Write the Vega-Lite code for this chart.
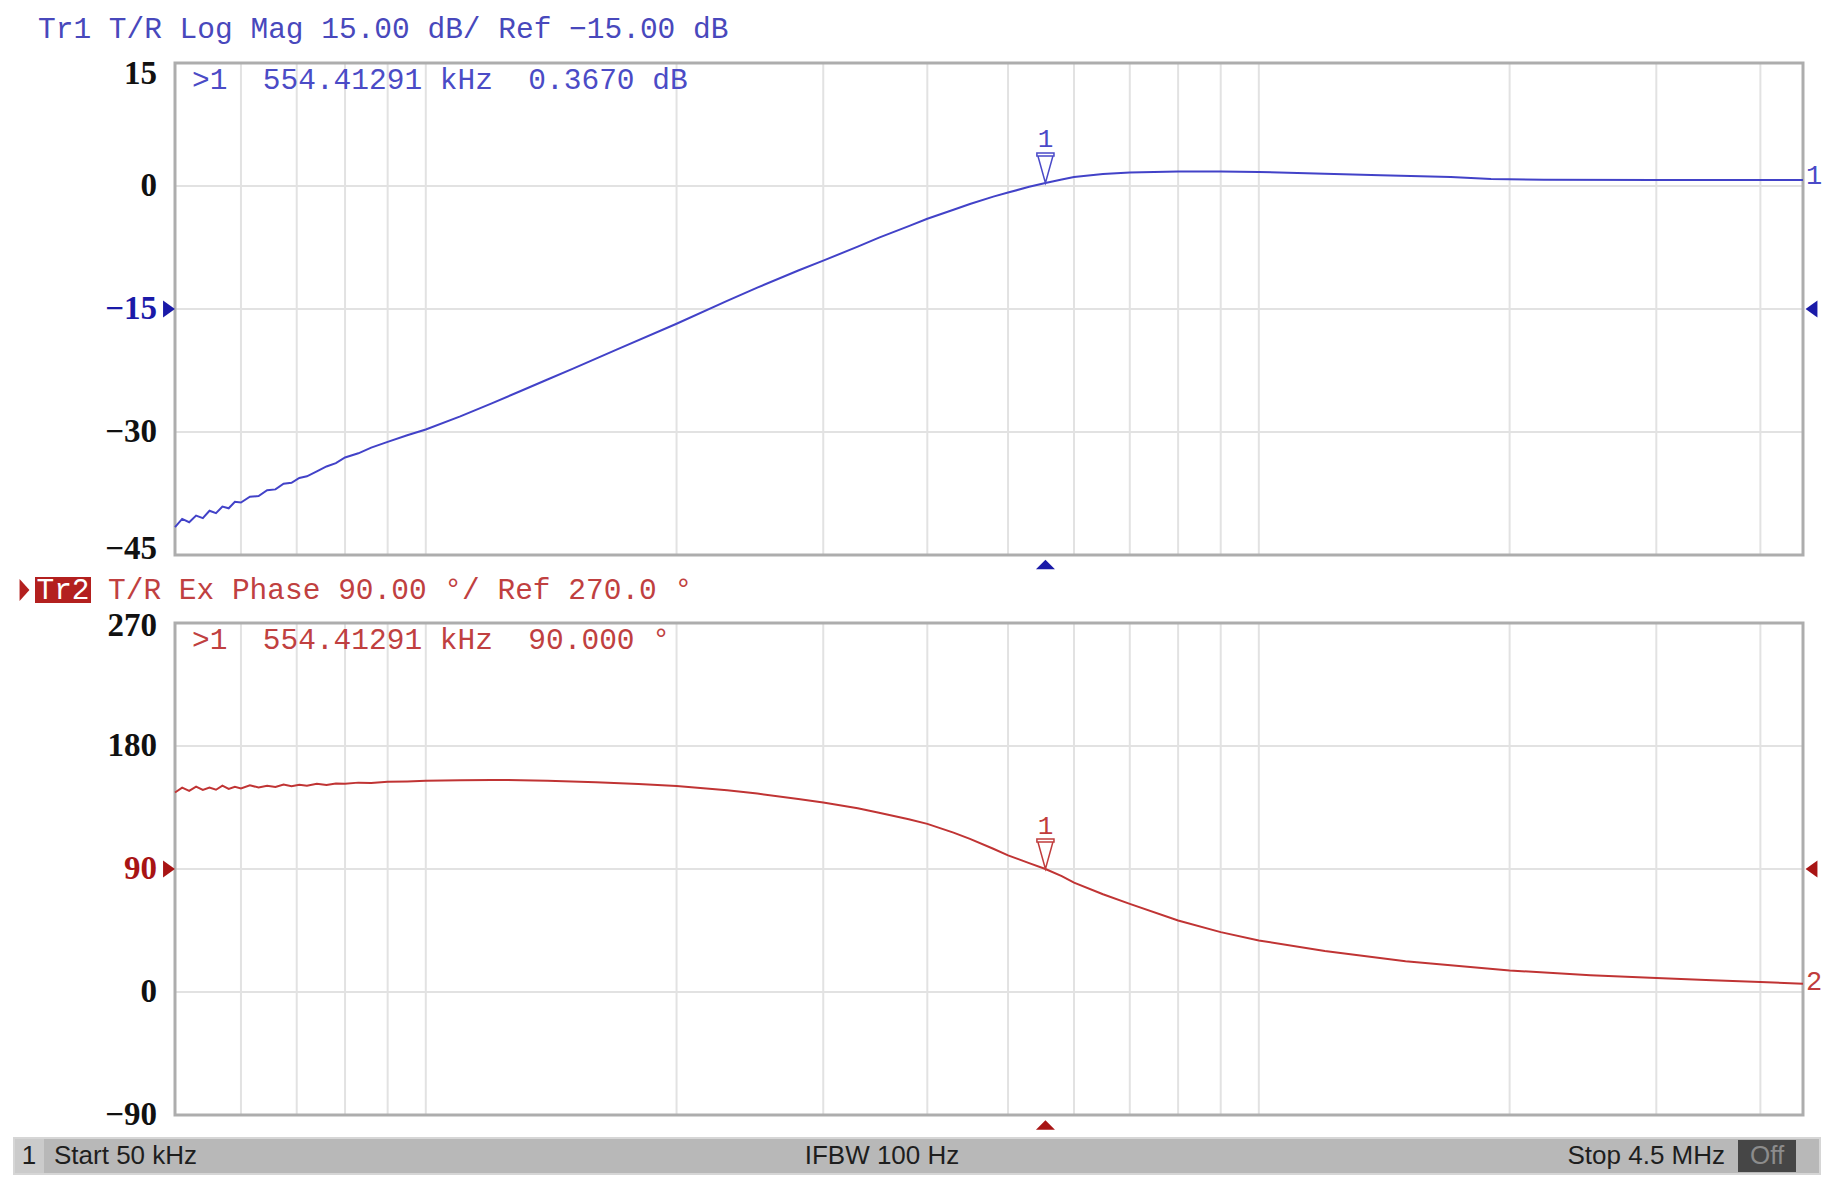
{
  "$schema": "https://vega.github.io/schema/vega-lite/v6.json",
  "width": 1628,
  "height": 1052,
  "autosize": {"type": "none"},
  "padding": {"left": 175, "top": 63, "right": 41, "bottom": 75},
  "background": "white",
  "config": {"view": {"stroke": null}},
  "datasets": {
    "grid": [{"f": 60000}, {"f": 70000}, {"f": 80000}, {"f": 90000}, {"f": 100000}, {"f": 200000}, {"f": 300000}, {"f": 400000}, {"f": 500000}, {"f": 600000}, {"f": 700000}, {"f": 800000}, {"f": 900000}, {"f": 1000000}, {"f": 2000000}, {"f": 3000000}, {"f": 4000000}],
    "magTicks": [{"v": -45}, {"v": -30}, {"v": -15}, {"v": 0}, {"v": 15}],
    "phaseTicks": [{"v": -90}, {"v": 0}, {"v": 90}, {"v": 180}, {"v": 270}],
    "mag": [
      {"f": 50000, "v": -41.6}, {"f": 51000, "v": -40.6}, {"f": 52000, "v": -41.0}, {"f": 53000, "v": -40.2}, {"f": 54000, "v": -40.5},
      {"f": 55000, "v": -39.6}, {"f": 56000, "v": -39.9}, {"f": 57000, "v": -39.1}, {"f": 58000, "v": -39.3}, {"f": 59000, "v": -38.5},
      {"f": 60000, "v": -38.6}, {"f": 61500, "v": -37.9}, {"f": 63000, "v": -37.8}, {"f": 64500, "v": -37.1}, {"f": 66000, "v": -37.0},
      {"f": 67500, "v": -36.3}, {"f": 69000, "v": -36.2}, {"f": 70500, "v": -35.6}, {"f": 72000, "v": -35.4}, {"f": 74000, "v": -34.8},
      {"f": 76000, "v": -34.2}, {"f": 78000, "v": -33.8}, {"f": 80000, "v": -33.1}, {"f": 83000, "v": -32.6}, {"f": 86000, "v": -31.9},
      {"f": 90000, "v": -31.2}, {"f": 95000, "v": -30.4}, {"f": 100000, "v": -29.7}, {"f": 110000, "v": -28.1}, {"f": 120000, "v": -26.5},
      {"f": 130000, "v": -25.0}, {"f": 140000, "v": -23.6}, {"f": 150000, "v": -22.3}, {"f": 170000, "v": -19.9}, {"f": 200000, "v": -16.8},
      {"f": 230000, "v": -14.0}, {"f": 250000, "v": -12.4}, {"f": 280000, "v": -10.3}, {"f": 300000, "v": -9.1}, {"f": 330000, "v": -7.4},
      {"f": 350000, "v": -6.3}, {"f": 380000, "v": -4.9}, {"f": 400000, "v": -4.0}, {"f": 430000, "v": -2.9}, {"f": 450000, "v": -2.2},
      {"f": 480000, "v": -1.3}, {"f": 500000, "v": -0.8}, {"f": 530000, "v": -0.1}, {"f": 554413, "v": 0.37}, {"f": 580000, "v": 0.8},
      {"f": 600000, "v": 1.1}, {"f": 650000, "v": 1.45}, {"f": 700000, "v": 1.65}, {"f": 800000, "v": 1.78}, {"f": 900000, "v": 1.78},
      {"f": 1000000, "v": 1.72}, {"f": 1200000, "v": 1.5}, {"f": 1400000, "v": 1.3}, {"f": 1700000, "v": 1.1}, {"f": 1900000, "v": 0.85},
      {"f": 2200000, "v": 0.77}, {"f": 3000000, "v": 0.74}, {"f": 4000000, "v": 0.73}, {"f": 4500000, "v": 0.73}
    ],
    "phase": [
      {"f": 50000, "v": 146.0}, {"f": 51000, "v": 149.5}, {"f": 52000, "v": 147.2}, {"f": 53000, "v": 150.3}, {"f": 54000, "v": 147.8},
      {"f": 55000, "v": 149.6}, {"f": 56000, "v": 148.0}, {"f": 57000, "v": 151.0}, {"f": 58000, "v": 148.6}, {"f": 59000, "v": 150.2},
      {"f": 60000, "v": 149.0}, {"f": 61500, "v": 151.3}, {"f": 63000, "v": 149.6}, {"f": 64500, "v": 150.9}, {"f": 66000, "v": 150.0},
      {"f": 67500, "v": 151.8}, {"f": 69000, "v": 150.6}, {"f": 70500, "v": 151.6}, {"f": 72000, "v": 151.0}, {"f": 74000, "v": 152.3},
      {"f": 76000, "v": 151.5}, {"f": 78000, "v": 152.6}, {"f": 80000, "v": 152.4}, {"f": 83000, "v": 153.2}, {"f": 86000, "v": 153.0},
      {"f": 90000, "v": 153.8}, {"f": 95000, "v": 154.1}, {"f": 100000, "v": 154.5}, {"f": 110000, "v": 155.0}, {"f": 120000, "v": 155.2},
      {"f": 130000, "v": 155.0}, {"f": 140000, "v": 154.6}, {"f": 160000, "v": 153.5}, {"f": 180000, "v": 152.2}, {"f": 200000, "v": 150.8},
      {"f": 230000, "v": 147.6}, {"f": 250000, "v": 145.2}, {"f": 280000, "v": 141.2}, {"f": 300000, "v": 138.6}, {"f": 330000, "v": 134.4},
      {"f": 350000, "v": 131.2}, {"f": 380000, "v": 126.4}, {"f": 400000, "v": 123.0}, {"f": 430000, "v": 116.6}, {"f": 450000, "v": 112.0},
      {"f": 480000, "v": 104.8}, {"f": 500000, "v": 100.0}, {"f": 530000, "v": 94.3}, {"f": 554413, "v": 90.0}, {"f": 580000, "v": 84.8},
      {"f": 600000, "v": 80.0}, {"f": 650000, "v": 71.5}, {"f": 700000, "v": 64.5}, {"f": 800000, "v": 52.3}, {"f": 900000, "v": 43.8},
      {"f": 1000000, "v": 37.7}, {"f": 1200000, "v": 30.0}, {"f": 1500000, "v": 22.5}, {"f": 2000000, "v": 15.8}, {"f": 2500000, "v": 12.3},
      {"f": 3000000, "v": 10.2}, {"f": 3500000, "v": 8.6}, {"f": 4000000, "v": 7.3}, {"f": 4500000, "v": 6.1}
    ]
  },
  "resolve": {"scale": {"y": "independent"}, "axis": {"y": "independent"}},
  "layer": [
    {
      "layer": [
        {
          "data": {"name": "grid"},
          "mark": {"type": "rule", "color": "#e2e2e2", "strokeWidth": 2},
          "encoding": {
            "x": {"field": "f", "type": "quantitative", "scale": {"type": "log", "domain": [50000, 4500000], "nice": false}, "axis": null},
            "y": {"datum": -45, "type": "quantitative", "scale": {"domain": [-45, 15], "range": [492, 0], "nice": false, "zero": false}, "axis": null},
            "y2": {"datum": 15}
          }
        },
        {
          "data": {"name": "magTicks"},
          "mark": {"type": "rule", "color": "#e2e2e2", "strokeWidth": 2},
          "encoding": {
            "x": {"datum": 50000, "type": "quantitative", "axis": null}, "x2": {"datum": 4500000},
            "y": {"field": "v", "type": "quantitative", "axis": null}
          }
        },
        {
          "data": {"name": "magTicks"},
          "transform": [{"filter": "datum.v !== 15 && datum.v !== -45"}],
          "mark": {"type": "text", "font": "Liberation Serif", "fontWeight": "bold", "fontSize": 33, "align": "right", "baseline": "middle", "dx": -18},
          "encoding": {
            "x": {"datum": 50000, "type": "quantitative", "axis": null},
            "y": {"field": "v", "type": "quantitative", "axis": null},
            "text": {"field": "v", "type": "quantitative"},
            "color": {"condition": {"test": "datum.v === -15", "value": "#1a1aa8"}, "value": "#111111"}
          }
        },
        {
          "data": {"values": [{}]},
          "mark": {"type": "text", "font": "Liberation Serif", "fontWeight": "bold", "fontSize": 33, "align": "right", "baseline": "middle", "dx": -18, "dy": 11, "color": "#111111"},
          "encoding": {"x": {"datum": 50000, "type": "quantitative", "axis": null}, "y": {"datum": 15, "type": "quantitative", "axis": null}, "text": {"value": "15"}}
        },
        {
          "data": {"values": [{}]},
          "mark": {"type": "text", "font": "Liberation Serif", "fontWeight": "bold", "fontSize": 33, "align": "right", "baseline": "middle", "dx": -18, "dy": -6, "color": "#111111"},
          "encoding": {"x": {"datum": 50000, "type": "quantitative", "axis": null}, "y": {"datum": -45, "type": "quantitative", "axis": null}, "text": {"value": "−45"}}
        },
        {
          "data": {"values": [{}]},
          "mark": {"type": "rect", "fill": "transparent", "stroke": "#adadad", "strokeWidth": 3},
          "encoding": {
            "x": {"datum": 50000, "type": "quantitative", "axis": null}, "x2": {"datum": 4500000},
            "y": {"datum": -45, "type": "quantitative", "axis": null}, "y2": {"datum": 15}
          }
        },
        {
          "data": {"name": "mag"},
          "mark": {"type": "line", "color": "#4242c8", "strokeWidth": 2},
          "encoding": {
            "x": {"field": "f", "type": "quantitative", "axis": null},
            "y": {"field": "v", "type": "quantitative", "axis": null}
          }
        },
        {
          "data": {"values": [{}]},
          "mark": {"type": "point", "shape": "M-0.57,-1L0.57,-1L0.57,-0.8L-0.57,-0.8Z M-0.5,-0.8L0,1L0.5,-0.8Z", "size": 900, "filled": false, "color": "#4a4ac8", "strokeWidth": 1.5, "opacity": 1, "yOffset": -15},
          "encoding": {"x": {"datum": 554413, "type": "quantitative", "axis": null}, "y": {"datum": 0.367, "type": "quantitative", "axis": null}}
        },
        {
          "data": {"values": [{}]},
          "mark": {"type": "text", "font": "Liberation Mono", "fontSize": 26, "color": "#4a4ac8", "align": "center", "baseline": "middle", "dy": -44},
          "encoding": {"x": {"datum": 554413, "type": "quantitative", "axis": null}, "y": {"datum": 0.367, "type": "quantitative", "axis": null}, "text": {"value": "1"}}
        },
        {
          "data": {"values": [{}]},
          "mark": {"type": "point", "shape": "M-1,0.5L1,0.5L0,-0.5Z", "size": 361, "filled": true, "color": "#1a1aa8", "strokeWidth": 0, "opacity": 1, "yOffset": 9.5},
          "encoding": {"x": {"datum": 554413, "type": "quantitative", "axis": null}, "y": {"datum": -45, "type": "quantitative", "axis": null}}
        },
        {
          "data": {"values": [{}]},
          "mark": {"type": "point", "shape": "M-0.7,-1L0.7,0L-0.7,1Z", "size": 289, "filled": true, "color": "#1a1aa8", "strokeWidth": 0, "opacity": 1, "xOffset": -6},
          "encoding": {"x": {"datum": 50000, "type": "quantitative", "axis": null}, "y": {"datum": -15, "type": "quantitative", "axis": null}}
        },
        {
          "data": {"values": [{}]},
          "mark": {"type": "point", "shape": "M0.7,-1L-0.7,0L0.7,1Z", "size": 289, "filled": true, "color": "#1a1aa8", "strokeWidth": 0, "opacity": 1, "xOffset": 8.5},
          "encoding": {"x": {"datum": 4500000, "type": "quantitative", "axis": null}, "y": {"datum": -15, "type": "quantitative", "axis": null}}
        },
        {
          "data": {"values": [{}]},
          "mark": {"type": "text", "font": "Liberation Mono", "fontSize": 27, "color": "#4a4ac8", "align": "left", "baseline": "middle", "dx": 3, "dy": -4},
          "encoding": {"x": {"datum": 4500000, "type": "quantitative", "axis": null}, "y": {"datum": 0.73, "type": "quantitative", "axis": null}, "text": {"value": "1"}}
        },
        {
          "data": {"values": [{}]},
          "mark": {"type": "text", "font": "Liberation Mono", "fontSize": 29.5, "color": "#4b4bc6", "align": "left", "baseline": "middle", "dx": 17, "dy": 17},
          "encoding": {"x": {"datum": 50000, "type": "quantitative", "axis": null}, "y": {"datum": 15, "type": "quantitative", "axis": null}, "text": {"value": ">1\u00a0\u00a0554.41291 kHz\u00a0\u00a00.3670 dB"}}
        },
        {
          "data": {"values": [{}]},
          "mark": {"type": "text", "font": "Liberation Mono", "fontSize": 29.5, "color": "#4848bc", "align": "left", "baseline": "middle", "dx": -137, "dy": -34},
          "encoding": {"x": {"datum": 50000, "type": "quantitative", "axis": null}, "y": {"datum": 15, "type": "quantitative", "axis": null}, "text": {"value": "Tr1 T/R Log Mag 15.00 dB/ Ref −15.00 dB"}}
        }
      ]
    },
    {
      "layer": [
        {
          "data": {"name": "grid"},
          "mark": {"type": "rule", "color": "#e2e2e2", "strokeWidth": 2},
          "encoding": {
            "x": {"field": "f", "type": "quantitative", "scale": {"type": "log", "domain": [50000, 4500000], "nice": false}, "axis": null},
            "y": {"datum": -90, "type": "quantitative", "scale": {"domain": [-90, 270], "range": [1052, 560], "nice": false, "zero": false}, "axis": null},
            "y2": {"datum": 270}
          }
        },
        {
          "data": {"name": "phaseTicks"},
          "mark": {"type": "rule", "color": "#e2e2e2", "strokeWidth": 2},
          "encoding": {
            "x": {"datum": 50000, "type": "quantitative", "axis": null}, "x2": {"datum": 4500000},
            "y": {"field": "v", "type": "quantitative", "axis": null}
          }
        },
        {
          "data": {"name": "phaseTicks"},
          "transform": [{"filter": "datum.v !== 270"}],
          "mark": {"type": "text", "font": "Liberation Serif", "fontWeight": "bold", "fontSize": 33, "align": "right", "baseline": "middle", "dx": -18},
          "encoding": {
            "x": {"datum": 50000, "type": "quantitative", "axis": null},
            "y": {"field": "v", "type": "quantitative", "axis": null},
            "text": {"field": "v", "type": "quantitative"},
            "color": {"condition": {"test": "datum.v === 90", "value": "#a81414"}, "value": "#111111"}
          }
        },
        {
          "data": {"values": [{}]},
          "mark": {"type": "text", "font": "Liberation Serif", "fontWeight": "bold", "fontSize": 33, "align": "right", "baseline": "middle", "dx": -18, "dy": 3, "color": "#111111"},
          "encoding": {"x": {"datum": 50000, "type": "quantitative", "axis": null}, "y": {"datum": 270, "type": "quantitative", "axis": null}, "text": {"value": "270"}}
        },
        {
          "data": {"values": [{}]},
          "mark": {"type": "rect", "fill": "transparent", "stroke": "#adadad", "strokeWidth": 3},
          "encoding": {
            "x": {"datum": 50000, "type": "quantitative", "axis": null}, "x2": {"datum": 4500000},
            "y": {"datum": -90, "type": "quantitative", "axis": null}, "y2": {"datum": 270}
          }
        },
        {
          "data": {"name": "phase"},
          "mark": {"type": "line", "color": "#c03434", "strokeWidth": 2},
          "encoding": {
            "x": {"field": "f", "type": "quantitative", "axis": null},
            "y": {"field": "v", "type": "quantitative", "axis": null}
          }
        },
        {
          "data": {"values": [{}]},
          "mark": {"type": "point", "shape": "M-0.57,-1L0.57,-1L0.57,-0.8L-0.57,-0.8Z M-0.5,-0.8L0,1L0.5,-0.8Z", "size": 900, "filled": false, "color": "#c03c3c", "strokeWidth": 1.5, "opacity": 1, "yOffset": -15},
          "encoding": {"x": {"datum": 554413, "type": "quantitative", "axis": null}, "y": {"datum": 90, "type": "quantitative", "axis": null}}
        },
        {
          "data": {"values": [{}]},
          "mark": {"type": "text", "font": "Liberation Mono", "fontSize": 26, "color": "#c03c3c", "align": "center", "baseline": "middle", "dy": -43},
          "encoding": {"x": {"datum": 554413, "type": "quantitative", "axis": null}, "y": {"datum": 90, "type": "quantitative", "axis": null}, "text": {"value": "1"}}
        },
        {
          "data": {"values": [{}]},
          "mark": {"type": "point", "shape": "M-1,0.5L1,0.5L0,-0.5Z", "size": 361, "filled": true, "color": "#a81414", "strokeWidth": 0, "opacity": 1, "yOffset": 10},
          "encoding": {"x": {"datum": 554413, "type": "quantitative", "axis": null}, "y": {"datum": -90, "type": "quantitative", "axis": null}}
        },
        {
          "data": {"values": [{}]},
          "mark": {"type": "point", "shape": "M-0.7,-1L0.7,0L-0.7,1Z", "size": 289, "filled": true, "color": "#a81414", "strokeWidth": 0, "opacity": 1, "xOffset": -6},
          "encoding": {"x": {"datum": 50000, "type": "quantitative", "axis": null}, "y": {"datum": 90, "type": "quantitative", "axis": null}}
        },
        {
          "data": {"values": [{}]},
          "mark": {"type": "point", "shape": "M0.7,-1L-0.7,0L0.7,1Z", "size": 289, "filled": true, "color": "#a81414", "strokeWidth": 0, "opacity": 1, "xOffset": 8.5},
          "encoding": {"x": {"datum": 4500000, "type": "quantitative", "axis": null}, "y": {"datum": 90, "type": "quantitative", "axis": null}}
        },
        {
          "data": {"values": [{}]},
          "mark": {"type": "text", "font": "Liberation Mono", "fontSize": 27, "color": "#c03c3c", "align": "left", "baseline": "middle", "dx": 3, "dy": -2},
          "encoding": {"x": {"datum": 4500000, "type": "quantitative", "axis": null}, "y": {"datum": 6.1, "type": "quantitative", "axis": null}, "text": {"value": "2"}}
        },
        {
          "data": {"values": [{}]},
          "mark": {"type": "text", "font": "Liberation Mono", "fontSize": 29.5, "color": "#c04040", "align": "left", "baseline": "middle", "dx": 17, "dy": 17},
          "encoding": {"x": {"datum": 50000, "type": "quantitative", "axis": null}, "y": {"datum": 270, "type": "quantitative", "axis": null}, "text": {"value": ">1\u00a0\u00a0554.41291 kHz\u00a0\u00a090.000 °"}}
        },
        {
          "data": {"values": [{}]},
          "mark": {"type": "point", "shape": "M-0.45,-1L0.45,0L-0.45,1Z", "size": 484, "filled": true, "color": "#b3201f", "strokeWidth": 0, "opacity": 1, "xOffset": -150.5, "yOffset": -33},
          "encoding": {"x": {"datum": 50000, "type": "quantitative", "axis": null}, "y": {"datum": 270, "type": "quantitative", "axis": null}}
        },
        {
          "data": {"values": [{}]},
          "mark": {"type": "rect", "fill": "#b3201f", "xOffset": -140, "x2Offset": -84, "yOffset": -46, "y2Offset": -20},
          "encoding": {"x": {"datum": 50000, "type": "quantitative", "axis": null}, "x2": {"datum": 50000}, "y": {"datum": 270, "type": "quantitative", "axis": null}, "y2": {"datum": 270}}
        },
        {
          "data": {"values": [{}]},
          "mark": {"type": "text", "font": "Liberation Mono", "fontSize": 29.5, "color": "#ffffff", "align": "center", "baseline": "middle", "dx": -112, "dy": -33},
          "encoding": {"x": {"datum": 50000, "type": "quantitative", "axis": null}, "y": {"datum": 270, "type": "quantitative", "axis": null}, "text": {"value": "Tr2"}}
        },
        {
          "data": {"values": [{}]},
          "mark": {"type": "text", "font": "Liberation Mono", "fontSize": 29.5, "color": "#c04040", "align": "left", "baseline": "middle", "dx": -67, "dy": -33},
          "encoding": {"x": {"datum": 50000, "type": "quantitative", "axis": null}, "y": {"datum": 270, "type": "quantitative", "axis": null}, "text": {"value": "T/R Ex Phase 90.00 °/ Ref 270.0 °"}}
        },
        {
          "data": {"values": [{}]},
          "mark": {"type": "rect", "fill": "#b8b8b8", "stroke": "#d6d6d6", "strokeWidth": 2, "xOffset": -161, "x2Offset": 17, "yOffset": 23, "y2Offset": 59},
          "encoding": {"x": {"datum": 50000, "type": "quantitative", "axis": null}, "x2": {"datum": 4500000}, "y": {"datum": -90, "type": "quantitative", "axis": null}, "y2": {"datum": -90}}
        },
        {
          "data": {"values": [{}]},
          "mark": {"type": "rect", "fill": "#cbcbcb", "xOffset": -160, "x2Offset": -131, "yOffset": 24, "y2Offset": 58},
          "encoding": {"x": {"datum": 50000, "type": "quantitative", "axis": null}, "x2": {"datum": 50000}, "y": {"datum": -90, "type": "quantitative", "axis": null}, "y2": {"datum": -90}}
        },
        {
          "data": {"values": [{}]},
          "mark": {"type": "rect", "fill": "#464646", "xOffset": -65, "x2Offset": -7, "yOffset": 25, "y2Offset": 57},
          "encoding": {"x": {"datum": 4500000, "type": "quantitative", "axis": null}, "x2": {"datum": 4500000}, "y": {"datum": -90, "type": "quantitative", "axis": null}, "y2": {"datum": -90}}
        },
        {
          "data": {"values": [{}]},
          "mark": {"type": "text", "font": "Liberation Sans", "fontSize": 26, "color": "#1e1e1e", "align": "center", "baseline": "middle", "dx": -146, "dy": 41},
          "encoding": {"x": {"datum": 50000, "type": "quantitative", "axis": null}, "y": {"datum": -90, "type": "quantitative", "axis": null}, "text": {"value": "1"}}
        },
        {
          "data": {"values": [{}]},
          "mark": {"type": "text", "font": "Liberation Sans", "fontSize": 26, "color": "#1e1e1e", "align": "left", "baseline": "middle", "dx": -121, "dy": 41},
          "encoding": {"x": {"datum": 50000, "type": "quantitative", "axis": null}, "y": {"datum": -90, "type": "quantitative", "axis": null}, "text": {"value": "Start 50 kHz"}}
        },
        {
          "data": {"values": [{}]},
          "mark": {"type": "text", "font": "Liberation Sans", "fontSize": 26, "color": "#1e1e1e", "align": "center", "baseline": "middle", "dx": 707, "dy": 41},
          "encoding": {"x": {"datum": 50000, "type": "quantitative", "axis": null}, "y": {"datum": -90, "type": "quantitative", "axis": null}, "text": {"value": "IFBW 100 Hz"}}
        },
        {
          "data": {"values": [{}]},
          "mark": {"type": "text", "font": "Liberation Sans", "fontSize": 26, "color": "#1e1e1e", "align": "right", "baseline": "middle", "dx": -78, "dy": 41},
          "encoding": {"x": {"datum": 4500000, "type": "quantitative", "axis": null}, "y": {"datum": -90, "type": "quantitative", "axis": null}, "text": {"value": "Stop 4.5 MHz"}}
        },
        {
          "data": {"values": [{}]},
          "mark": {"type": "text", "font": "Liberation Sans", "fontSize": 26, "color": "#8c8c8c", "align": "center", "baseline": "middle", "dx": -36, "dy": 41},
          "encoding": {"x": {"datum": 4500000, "type": "quantitative", "axis": null}, "y": {"datum": -90, "type": "quantitative", "axis": null}, "text": {"value": "Off"}}
        }
      ]
    }
  ]
}
